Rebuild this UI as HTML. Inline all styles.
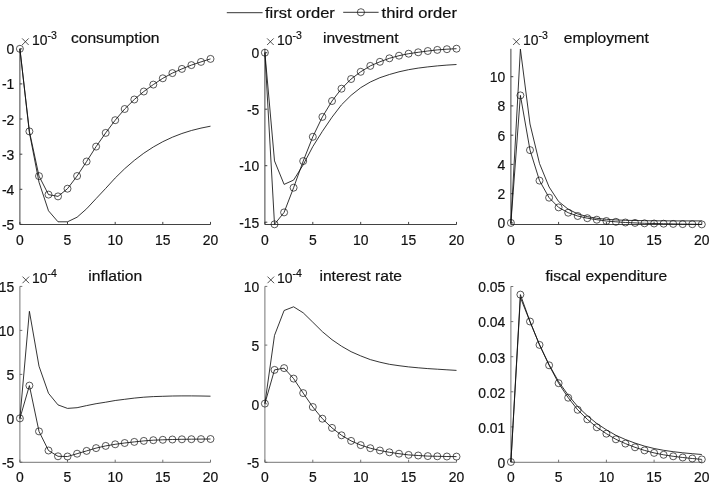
<!DOCTYPE html>
<html><head><meta charset="utf-8"><title>IRF</title>
<style>
html,body{margin:0;padding:0;background:#fff;}
svg{display:block;will-change:transform;}
text{font-family:"Liberation Sans",sans-serif;fill:#111;stroke:#111;stroke-width:0.2px;}
.tk{font-size:14.6px;}
.tt{font-size:14.9px;}
.lg{font-size:15.4px;}
.sup{font-size:11px;}
.xm{stroke:#262626;stroke-width:0.8;fill:none;}
.ax{stroke:#383838;stroke-width:0.95;fill:none;}
.ln{stroke:#111;stroke-width:0.85;fill:none;stroke-linejoin:round;}
.mk{stroke:#111;stroke-width:0.7;fill:none;}
</style></head><body>
<svg width="712" height="482" viewBox="0 0 712 482">
<rect width="712" height="482" fill="#fff"/>
<path class="ln" d="M226.8 12.7H262.6"/>
<text class="lg" transform="translate(265 18) scale(1.075 1)">first order</text>
<path class="ln" d="M343.2 12.3H378.6"/>
<circle class="mk" cx="360.9" cy="12.3" r="3.6"/>
<text class="lg" transform="translate(381.6 18) scale(1.075 1)">third order</text>
<g>
<path class="ax" d="M19.9 48.8V224.5H210.5M19.9 224.5v-2.6M67.5 224.5v-2.6M115.2 224.5v-2.6M162.8 224.5v-2.6M210.5 224.5v-2.6M19.9 48.8h2.4M19.9 83.9h2.4M19.9 119.0h2.4M19.9 154.2h2.4M19.9 189.3h2.4M19.9 224.4h2.4"/>
<text class="tk" text-anchor="middle" transform="translate(19.9 244.5) scale(0.955 1)">0</text>
<text class="tk" text-anchor="middle" transform="translate(67.5 244.5) scale(0.955 1)">5</text>
<text class="tk" text-anchor="middle" transform="translate(115.2 244.5) scale(0.955 1)">10</text>
<text class="tk" text-anchor="middle" transform="translate(162.8 244.5) scale(0.955 1)">15</text>
<text class="tk" text-anchor="middle" transform="translate(210.5 244.5) scale(0.955 1)">20</text>
<text class="tk" text-anchor="end" transform="translate(14.3 54.3) scale(0.955 1)">0</text>
<text class="tk" text-anchor="end" transform="translate(14.3 89.4) scale(0.955 1)">-1</text>
<text class="tk" text-anchor="end" transform="translate(14.3 124.5) scale(0.955 1)">-2</text>
<text class="tk" text-anchor="end" transform="translate(14.3 159.7) scale(0.955 1)">-3</text>
<text class="tk" text-anchor="end" transform="translate(14.3 194.8) scale(0.955 1)">-4</text>
<text class="tk" text-anchor="end" transform="translate(14.3 229.9) scale(0.955 1)">-5</text>
<path class="xm" d="M22.1 38.4l6.6 6.6M22.1 45.0l6.6 -6.6"/>
<text class="tk" transform="translate(31.9 45.0) scale(0.955 1)">10<tspan class="sup" dy="-6.5">-3</tspan></text>
<text class="tt" text-anchor="middle" transform="translate(115.2 42.8) scale(1.05 1)">consumption</text>
<path class="ln" d="M19.9 48.8L29.4 132.5L39.0 182.2L48.5 210.8L58.0 221.8L67.5 221.8L77.1 217.2L86.6 208.8L96.1 198.6L105.7 188.4L115.2 178.0L124.7 168.7L134.3 160.4L143.8 153.2L153.3 147.0L162.8 141.7L172.4 137.2L181.9 133.5L191.4 130.5L201.0 128.1L210.5 126.2"/>
<path class="ln" d="M19.9 48.8L29.4 131.4L39.0 176.1L48.5 194.6L58.0 196.4L67.5 188.7L77.1 176.0L86.6 161.5L96.1 146.6L105.7 132.9L115.2 120.2L124.7 109.0L134.3 99.5L143.8 91.5L153.3 84.6L162.8 78.3L172.4 73.1L181.9 68.9L191.4 65.1L201.0 61.9L210.5 58.9"/>
<circle class="mk" cx="19.9" cy="48.8" r="3.5"/>
<circle class="mk" cx="29.4" cy="131.4" r="3.5"/>
<circle class="mk" cx="39.0" cy="176.1" r="3.5"/>
<circle class="mk" cx="48.5" cy="194.6" r="3.5"/>
<circle class="mk" cx="58.0" cy="196.4" r="3.5"/>
<circle class="mk" cx="67.5" cy="188.7" r="3.5"/>
<circle class="mk" cx="77.1" cy="176.0" r="3.5"/>
<circle class="mk" cx="86.6" cy="161.5" r="3.5"/>
<circle class="mk" cx="96.1" cy="146.6" r="3.5"/>
<circle class="mk" cx="105.7" cy="132.9" r="3.5"/>
<circle class="mk" cx="115.2" cy="120.2" r="3.5"/>
<circle class="mk" cx="124.7" cy="109.0" r="3.5"/>
<circle class="mk" cx="134.3" cy="99.5" r="3.5"/>
<circle class="mk" cx="143.8" cy="91.5" r="3.5"/>
<circle class="mk" cx="153.3" cy="84.6" r="3.5"/>
<circle class="mk" cx="162.8" cy="78.3" r="3.5"/>
<circle class="mk" cx="172.4" cy="73.1" r="3.5"/>
<circle class="mk" cx="181.9" cy="68.9" r="3.5"/>
<circle class="mk" cx="191.4" cy="65.1" r="3.5"/>
<circle class="mk" cx="201.0" cy="61.9" r="3.5"/>
<circle class="mk" cx="210.5" cy="58.9" r="3.5"/>
</g>
<g>
<path class="ax" d="M264.9 48.8V224.5H456.5M264.9 224.5v-2.6M312.8 224.5v-2.6M360.7 224.5v-2.6M408.6 224.5v-2.6M456.5 224.5v-2.6M264.9 52.7h2.4M264.9 109.2h2.4M264.9 165.7h2.4M264.9 222.2h2.4"/>
<text class="tk" text-anchor="middle" transform="translate(264.9 244.5) scale(0.955 1)">0</text>
<text class="tk" text-anchor="middle" transform="translate(312.8 244.5) scale(0.955 1)">5</text>
<text class="tk" text-anchor="middle" transform="translate(360.7 244.5) scale(0.955 1)">10</text>
<text class="tk" text-anchor="middle" transform="translate(408.6 244.5) scale(0.955 1)">15</text>
<text class="tk" text-anchor="middle" transform="translate(456.5 244.5) scale(0.955 1)">20</text>
<text class="tk" text-anchor="end" transform="translate(259.3 58.2) scale(0.955 1)">0</text>
<text class="tk" text-anchor="end" transform="translate(259.3 114.7) scale(0.955 1)">-5</text>
<text class="tk" text-anchor="end" transform="translate(259.3 171.2) scale(0.955 1)">-10</text>
<text class="tk" text-anchor="end" transform="translate(259.3 227.7) scale(0.955 1)">-15</text>
<path class="xm" d="M267.1 38.4l6.6 6.6M267.1 45.0l6.6 -6.6"/>
<text class="tk" transform="translate(276.9 45.0) scale(0.955 1)">10<tspan class="sup" dy="-6.5">-3</tspan></text>
<text class="tt" text-anchor="middle" transform="translate(360.7 42.8) scale(1.05 1)">investment</text>
<path class="ln" d="M264.9 52.7L274.5 160.9L284.1 184.4L293.6 180.1L303.2 164.8L312.8 146.6L322.4 131.3L332.0 117.2L341.5 104.8L351.1 95.3L360.7 87.7L370.3 82.0L379.9 77.7L389.4 74.5L399.0 71.8L408.6 69.7L418.2 68.1L427.8 66.9L437.3 65.9L446.9 65.1L456.5 64.5"/>
<path class="ln" d="M264.9 52.7L274.5 224.3L284.1 212.4L293.6 187.7L303.2 161.1L312.8 136.8L322.4 116.9L332.0 101.0L341.5 88.7L351.1 79.0L360.7 71.8L370.3 65.9L379.9 61.8L389.4 58.3L399.0 55.7L408.6 53.7L418.2 52.3L427.8 51.0L437.3 49.9L446.9 49.2L456.5 48.7"/>
<circle class="mk" cx="264.9" cy="52.7" r="3.5"/>
<circle class="mk" cx="274.5" cy="224.3" r="3.5"/>
<circle class="mk" cx="284.1" cy="212.4" r="3.5"/>
<circle class="mk" cx="293.6" cy="187.7" r="3.5"/>
<circle class="mk" cx="303.2" cy="161.1" r="3.5"/>
<circle class="mk" cx="312.8" cy="136.8" r="3.5"/>
<circle class="mk" cx="322.4" cy="116.9" r="3.5"/>
<circle class="mk" cx="332.0" cy="101.0" r="3.5"/>
<circle class="mk" cx="341.5" cy="88.7" r="3.5"/>
<circle class="mk" cx="351.1" cy="79.0" r="3.5"/>
<circle class="mk" cx="360.7" cy="71.8" r="3.5"/>
<circle class="mk" cx="370.3" cy="65.9" r="3.5"/>
<circle class="mk" cx="379.9" cy="61.8" r="3.5"/>
<circle class="mk" cx="389.4" cy="58.3" r="3.5"/>
<circle class="mk" cx="399.0" cy="55.7" r="3.5"/>
<circle class="mk" cx="408.6" cy="53.7" r="3.5"/>
<circle class="mk" cx="418.2" cy="52.3" r="3.5"/>
<circle class="mk" cx="427.8" cy="51.0" r="3.5"/>
<circle class="mk" cx="437.3" cy="49.9" r="3.5"/>
<circle class="mk" cx="446.9" cy="49.2" r="3.5"/>
<circle class="mk" cx="456.5" cy="48.7" r="3.5"/>
</g>
<g>
<path class="ax" d="M510.9 48.8V224.5H701.8M510.9 224.5v-2.6M558.6 224.5v-2.6M606.4 224.5v-2.6M654.1 224.5v-2.6M701.8 224.5v-2.6M510.9 222.9h2.4M510.9 193.7h2.4M510.9 164.4h2.4M510.9 135.2h2.4M510.9 105.9h2.4M510.9 76.7h2.4"/>
<text class="tk" text-anchor="middle" transform="translate(510.9 244.5) scale(0.955 1)">0</text>
<text class="tk" text-anchor="middle" transform="translate(558.6 244.5) scale(0.955 1)">5</text>
<text class="tk" text-anchor="middle" transform="translate(606.4 244.5) scale(0.955 1)">10</text>
<text class="tk" text-anchor="middle" transform="translate(654.1 244.5) scale(0.955 1)">15</text>
<text class="tk" text-anchor="middle" transform="translate(701.8 244.5) scale(0.955 1)">20</text>
<text class="tk" text-anchor="end" transform="translate(505.3 228.4) scale(0.955 1)">0</text>
<text class="tk" text-anchor="end" transform="translate(505.3 199.2) scale(0.955 1)">2</text>
<text class="tk" text-anchor="end" transform="translate(505.3 169.9) scale(0.955 1)">4</text>
<text class="tk" text-anchor="end" transform="translate(505.3 140.7) scale(0.955 1)">6</text>
<text class="tk" text-anchor="end" transform="translate(505.3 111.4) scale(0.955 1)">8</text>
<text class="tk" text-anchor="end" transform="translate(505.3 82.2) scale(0.955 1)">10</text>
<path class="xm" d="M513.1 38.4l6.6 6.6M513.1 45.0l6.6 -6.6"/>
<text class="tk" transform="translate(522.9 45.0) scale(0.955 1)">10<tspan class="sup" dy="-6.5">-3</tspan></text>
<text class="tt" text-anchor="middle" transform="translate(606.3 42.8) scale(1.05 1)">employment</text>
<path class="ln" d="M510.9 222.9L520.4 49.1L530.0 124.0L539.5 163.5L549.1 187.0L558.6 201.5L568.2 209.2L577.7 213.9L587.3 216.6L596.8 218.3L606.4 219.3L615.9 219.9L625.4 220.3L635.0 220.5L644.5 220.7L654.1 220.8L663.6 220.8L673.2 220.9L682.7 220.9L692.3 220.9L701.8 220.9"/>
<path class="ln" d="M510.9 222.9L520.4 95.4L530.0 150.1L539.5 180.6L549.1 197.7L558.6 207.4L568.2 212.7L577.7 216.0L587.3 218.2L596.8 219.7L606.4 221.0L615.9 221.8L625.4 222.5L635.0 222.9L644.5 223.3L654.1 223.5L663.6 223.7L673.2 223.9L682.7 224.1L692.3 224.2L701.8 224.4"/>
<circle class="mk" cx="510.9" cy="222.9" r="3.5"/>
<circle class="mk" cx="520.4" cy="95.4" r="3.5"/>
<circle class="mk" cx="530.0" cy="150.1" r="3.5"/>
<circle class="mk" cx="539.5" cy="180.6" r="3.5"/>
<circle class="mk" cx="549.1" cy="197.7" r="3.5"/>
<circle class="mk" cx="558.6" cy="207.4" r="3.5"/>
<circle class="mk" cx="568.2" cy="212.7" r="3.5"/>
<circle class="mk" cx="577.7" cy="216.0" r="3.5"/>
<circle class="mk" cx="587.3" cy="218.2" r="3.5"/>
<circle class="mk" cx="596.8" cy="219.7" r="3.5"/>
<circle class="mk" cx="606.4" cy="221.0" r="3.5"/>
<circle class="mk" cx="615.9" cy="221.8" r="3.5"/>
<circle class="mk" cx="625.4" cy="222.5" r="3.5"/>
<circle class="mk" cx="635.0" cy="222.9" r="3.5"/>
<circle class="mk" cx="644.5" cy="223.3" r="3.5"/>
<circle class="mk" cx="654.1" cy="223.5" r="3.5"/>
<circle class="mk" cx="663.6" cy="223.7" r="3.5"/>
<circle class="mk" cx="673.2" cy="223.9" r="3.5"/>
<circle class="mk" cx="682.7" cy="224.1" r="3.5"/>
<circle class="mk" cx="692.3" cy="224.2" r="3.5"/>
<circle class="mk" cx="701.8" cy="224.4" r="3.5"/>
</g>
<g>
<path class="ax" style="stroke:#5c5c5c;stroke-width:0.85" d="M19.9 286.4V462.3H210.5M19.9 462.3v-2.6M67.5 462.3v-2.6M115.2 462.3v-2.6M162.8 462.3v-2.6M210.5 462.3v-2.6M19.9 286.4h2.4M19.9 330.4h2.4M19.9 374.4h2.4M19.9 418.4h2.4M19.9 462.2h2.4"/>
<text class="tk" text-anchor="middle" transform="translate(19.9 482.0) scale(0.955 1)">0</text>
<text class="tk" text-anchor="middle" transform="translate(67.5 482.0) scale(0.955 1)">5</text>
<text class="tk" text-anchor="middle" transform="translate(115.2 482.0) scale(0.955 1)">10</text>
<text class="tk" text-anchor="middle" transform="translate(162.8 482.0) scale(0.955 1)">15</text>
<text class="tk" text-anchor="middle" transform="translate(210.5 482.0) scale(0.955 1)">20</text>
<text class="tk" text-anchor="end" transform="translate(14.3 292.2) scale(0.955 1)">15</text>
<text class="tk" text-anchor="end" transform="translate(14.3 336.2) scale(0.955 1)">10</text>
<text class="tk" text-anchor="end" transform="translate(14.3 380.2) scale(0.955 1)">5</text>
<text class="tk" text-anchor="end" transform="translate(14.3 424.2) scale(0.955 1)">0</text>
<text class="tk" text-anchor="end" transform="translate(14.3 468.0) scale(0.955 1)">-5</text>
<path class="xm" d="M22.5 276.6l6.6 6.6M22.5 283.2l6.6 -6.6"/>
<text class="tk" transform="translate(31.9 283.1) scale(0.955 1)">10<tspan class="sup" dy="-6.5">-4</tspan></text>
<text class="tt" text-anchor="middle" transform="translate(115.2 281.1) scale(1.05 1)">inflation</text>
<path class="ln" d="M19.9 418.4L29.4 311.3L39.0 366.2L48.5 393.3L58.0 404.9L67.5 408.4L77.1 407.7L86.6 405.6L96.1 403.7L105.7 402.2L115.2 400.5L124.7 399.3L134.3 398.1L143.8 397.2L153.3 396.6L162.8 396.3L172.4 396.0L181.9 395.9L191.4 395.9L201.0 396.0L210.5 396.2"/>
<path class="ln" d="M19.9 418.4L29.4 385.6L39.0 431.4L48.5 450.5L58.0 456.3L67.5 456.5L77.1 453.7L86.6 450.9L96.1 448.1L105.7 445.9L115.2 444.3L124.7 443.0L134.3 441.9L143.8 440.9L153.3 440.2L162.8 439.8L172.4 439.5L181.9 439.3L191.4 439.2L201.0 439.1L210.5 439.0"/>
<circle class="mk" cx="19.9" cy="418.4" r="3.5"/>
<circle class="mk" cx="29.4" cy="385.6" r="3.5"/>
<circle class="mk" cx="39.0" cy="431.4" r="3.5"/>
<circle class="mk" cx="48.5" cy="450.5" r="3.5"/>
<circle class="mk" cx="58.0" cy="456.3" r="3.5"/>
<circle class="mk" cx="67.5" cy="456.5" r="3.5"/>
<circle class="mk" cx="77.1" cy="453.7" r="3.5"/>
<circle class="mk" cx="86.6" cy="450.9" r="3.5"/>
<circle class="mk" cx="96.1" cy="448.1" r="3.5"/>
<circle class="mk" cx="105.7" cy="445.9" r="3.5"/>
<circle class="mk" cx="115.2" cy="444.3" r="3.5"/>
<circle class="mk" cx="124.7" cy="443.0" r="3.5"/>
<circle class="mk" cx="134.3" cy="441.9" r="3.5"/>
<circle class="mk" cx="143.8" cy="440.9" r="3.5"/>
<circle class="mk" cx="153.3" cy="440.2" r="3.5"/>
<circle class="mk" cx="162.8" cy="439.8" r="3.5"/>
<circle class="mk" cx="172.4" cy="439.5" r="3.5"/>
<circle class="mk" cx="181.9" cy="439.3" r="3.5"/>
<circle class="mk" cx="191.4" cy="439.2" r="3.5"/>
<circle class="mk" cx="201.0" cy="439.1" r="3.5"/>
<circle class="mk" cx="210.5" cy="439.0" r="3.5"/>
</g>
<g>
<path class="ax" style="stroke:#5c5c5c;stroke-width:0.85" d="M264.9 286.4V462.3H456.5M264.9 462.3v-2.6M312.8 462.3v-2.6M360.7 462.3v-2.6M408.6 462.3v-2.6M456.5 462.3v-2.6M264.9 286.4h2.4M264.9 345.1h2.4M264.9 403.8h2.4M264.9 462.3h2.4"/>
<text class="tk" text-anchor="middle" transform="translate(264.9 482.0) scale(0.955 1)">0</text>
<text class="tk" text-anchor="middle" transform="translate(312.8 482.0) scale(0.955 1)">5</text>
<text class="tk" text-anchor="middle" transform="translate(360.7 482.0) scale(0.955 1)">10</text>
<text class="tk" text-anchor="middle" transform="translate(408.6 482.0) scale(0.955 1)">15</text>
<text class="tk" text-anchor="middle" transform="translate(456.5 482.0) scale(0.955 1)">20</text>
<text class="tk" text-anchor="end" transform="translate(259.3 292.2) scale(0.955 1)">10</text>
<text class="tk" text-anchor="end" transform="translate(259.3 350.9) scale(0.955 1)">5</text>
<text class="tk" text-anchor="end" transform="translate(259.3 409.6) scale(0.955 1)">0</text>
<text class="tk" text-anchor="end" transform="translate(259.3 468.1) scale(0.955 1)">-5</text>
<path class="xm" d="M267.5 276.6l6.6 6.6M267.5 283.2l6.6 -6.6"/>
<text class="tk" transform="translate(276.9 283.1) scale(0.955 1)">10<tspan class="sup" dy="-6.5">-4</tspan></text>
<text class="tt" text-anchor="middle" transform="translate(360.7 281.1) scale(1.05 1)">interest rate</text>
<path class="ln" d="M264.9 403.6L274.5 335.4L284.1 310.5L293.6 306.8L303.2 312.8L312.8 322.2L322.4 331.7L332.0 339.7L341.5 346.2L351.1 351.7L360.7 355.9L370.3 359.6L379.9 362.2L389.4 364.3L399.0 365.7L408.6 366.9L418.2 367.8L427.8 368.6L437.3 369.2L446.9 369.8L456.5 370.4"/>
<path class="ln" d="M264.9 403.6L274.5 369.9L284.1 368.1L293.6 378.6L303.2 393.1L312.8 407.0L322.4 418.7L332.0 427.9L341.5 435.3L351.1 440.9L360.7 445.1L370.3 448.2L379.9 450.5L389.4 452.3L399.0 453.7L408.6 454.9L418.2 455.5L427.8 456.1L437.3 456.3L446.9 456.5L456.5 456.6"/>
<circle class="mk" cx="264.9" cy="403.6" r="3.5"/>
<circle class="mk" cx="274.5" cy="369.9" r="3.5"/>
<circle class="mk" cx="284.1" cy="368.1" r="3.5"/>
<circle class="mk" cx="293.6" cy="378.6" r="3.5"/>
<circle class="mk" cx="303.2" cy="393.1" r="3.5"/>
<circle class="mk" cx="312.8" cy="407.0" r="3.5"/>
<circle class="mk" cx="322.4" cy="418.7" r="3.5"/>
<circle class="mk" cx="332.0" cy="427.9" r="3.5"/>
<circle class="mk" cx="341.5" cy="435.3" r="3.5"/>
<circle class="mk" cx="351.1" cy="440.9" r="3.5"/>
<circle class="mk" cx="360.7" cy="445.1" r="3.5"/>
<circle class="mk" cx="370.3" cy="448.2" r="3.5"/>
<circle class="mk" cx="379.9" cy="450.5" r="3.5"/>
<circle class="mk" cx="389.4" cy="452.3" r="3.5"/>
<circle class="mk" cx="399.0" cy="453.7" r="3.5"/>
<circle class="mk" cx="408.6" cy="454.9" r="3.5"/>
<circle class="mk" cx="418.2" cy="455.5" r="3.5"/>
<circle class="mk" cx="427.8" cy="456.1" r="3.5"/>
<circle class="mk" cx="437.3" cy="456.3" r="3.5"/>
<circle class="mk" cx="446.9" cy="456.5" r="3.5"/>
<circle class="mk" cx="456.5" cy="456.6" r="3.5"/>
</g>
<g>
<path class="ax" style="stroke:#5c5c5c;stroke-width:0.85" d="M510.9 286.4V462.3H701.8M510.9 462.3v-2.6M558.6 462.3v-2.6M606.4 462.3v-2.6M654.1 462.3v-2.6M701.8 462.3v-2.6M510.9 462.0h2.4M510.9 426.9h2.4M510.9 391.8h2.4M510.9 356.7h2.4M510.9 321.6h2.4M510.9 286.5h2.4"/>
<text class="tk" text-anchor="middle" transform="translate(510.9 482.0) scale(0.955 1)">0</text>
<text class="tk" text-anchor="middle" transform="translate(558.6 482.0) scale(0.955 1)">5</text>
<text class="tk" text-anchor="middle" transform="translate(606.4 482.0) scale(0.955 1)">10</text>
<text class="tk" text-anchor="middle" transform="translate(654.1 482.0) scale(0.955 1)">15</text>
<text class="tk" text-anchor="middle" transform="translate(701.8 482.0) scale(0.955 1)">20</text>
<text class="tk" text-anchor="end" transform="translate(505.3 467.8) scale(0.955 1)">0</text>
<text class="tk" text-anchor="end" transform="translate(505.3 432.7) scale(0.955 1)">0.01</text>
<text class="tk" text-anchor="end" transform="translate(505.3 397.6) scale(0.955 1)">0.02</text>
<text class="tk" text-anchor="end" transform="translate(505.3 362.5) scale(0.955 1)">0.03</text>
<text class="tk" text-anchor="end" transform="translate(505.3 327.4) scale(0.955 1)">0.04</text>
<text class="tk" text-anchor="end" transform="translate(505.3 292.3) scale(0.955 1)">0.05</text>
<text class="tt" text-anchor="middle" transform="translate(606.3 281.1) scale(1.05 1)">fiscal expenditure</text>
<path class="ln" d="M510.9 462.0L520.4 297.5L530.0 321.7L539.5 344.7L549.1 364.7L558.6 381.6L568.2 395.1L577.7 406.6L587.3 415.7L596.8 423.5L606.4 429.8L615.9 435.3L625.4 439.5L635.0 443.1L644.5 446.1L654.1 448.5L663.6 450.3L673.2 451.7L682.7 452.8L692.3 453.7L701.8 454.5"/>
<path class="ln" d="M510.9 462.0L520.4 294.6L530.0 321.5L539.5 344.9L549.1 365.3L558.6 383.2L568.2 397.7L577.7 409.8L587.3 419.3L596.8 427.3L606.4 433.7L615.9 439.3L625.4 443.6L635.0 447.3L644.5 450.4L654.1 452.9L663.6 454.8L673.2 456.3L682.7 457.5L692.3 458.5L701.8 459.4"/>
<circle class="mk" cx="510.9" cy="462.0" r="3.5"/>
<circle class="mk" cx="520.4" cy="294.6" r="3.5"/>
<circle class="mk" cx="530.0" cy="321.5" r="3.5"/>
<circle class="mk" cx="539.5" cy="344.9" r="3.5"/>
<circle class="mk" cx="549.1" cy="365.3" r="3.5"/>
<circle class="mk" cx="558.6" cy="383.2" r="3.5"/>
<circle class="mk" cx="568.2" cy="397.7" r="3.5"/>
<circle class="mk" cx="577.7" cy="409.8" r="3.5"/>
<circle class="mk" cx="587.3" cy="419.3" r="3.5"/>
<circle class="mk" cx="596.8" cy="427.3" r="3.5"/>
<circle class="mk" cx="606.4" cy="433.7" r="3.5"/>
<circle class="mk" cx="615.9" cy="439.3" r="3.5"/>
<circle class="mk" cx="625.4" cy="443.6" r="3.5"/>
<circle class="mk" cx="635.0" cy="447.3" r="3.5"/>
<circle class="mk" cx="644.5" cy="450.4" r="3.5"/>
<circle class="mk" cx="654.1" cy="452.9" r="3.5"/>
<circle class="mk" cx="663.6" cy="454.8" r="3.5"/>
<circle class="mk" cx="673.2" cy="456.3" r="3.5"/>
<circle class="mk" cx="682.7" cy="457.5" r="3.5"/>
<circle class="mk" cx="692.3" cy="458.5" r="3.5"/>
<circle class="mk" cx="701.8" cy="459.4" r="3.5"/>
</g>
</svg>
</body></html>
